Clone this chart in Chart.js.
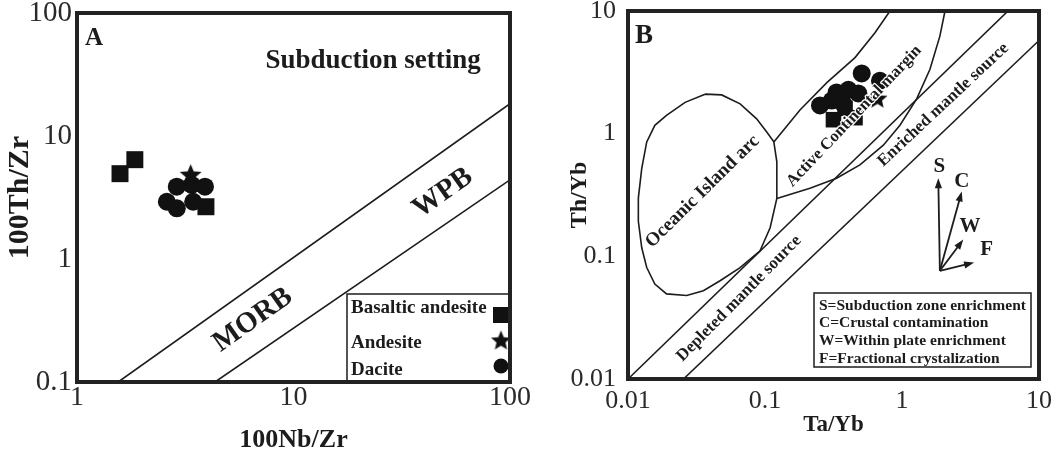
<!DOCTYPE html>
<html>
<head>
<meta charset="utf-8">
<script src="https://cdn.jsdelivr.net/npm/chart.js@4.4.1/dist/chart.umd.min.js"></script>
<style>
  html, body { margin: 0; padding: 0; background: #fff; }
  #wrap { position: relative; width: 1063px; height: 453px; overflow: hidden; background: #fff; }
  #cA { position: absolute; left: 0; top: 0; }
  #cB { position: absolute; left: 545px; top: 0; }
</style>
</head>
<body>
<div id="wrap">
  <canvas id="cA" width="545" height="453"></canvas>
  <canvas id="cB" width="518" height="453"></canvas>
</div>
<script>
// ---------- Panel A: 100Th/Zr vs 100Nb/Zr ----------
const aXTicks = [1, 10, 100];
const aXTickLabels = ['1', '10', '100'];
const aYTicks = [0.1, 1, 10, 100];
const aYTickLabels = ['0.1', '1', '10', '100'];

const aBasalticAndesite = [[1.58, 4.94], [1.85, 6.42], [3.94, 2.66]];
const aAndesite = [[3.35, 4.88]];
const aDacite = [[2.60, 2.92], [2.89, 2.58], [2.89, 3.87], [3.39, 4.00], [3.90, 3.87], [3.44, 2.92]];

const aBoundaryUpper = [[1.55, 0.1], [100, 18.3]];
const aBoundaryLower = [[4.34, 0.1], [100, 4.4]];

const aLegendNames = ['Basaltic andesite', 'Andesite', 'Dacite'];
const aRegionNames = ['MORB', 'WPB'];
const aRegionPos = [[6.5, 0.319], [49, 3.44]];
const aSettingName = 'Subduction setting';
const aSettingPos = [23.3, 40.5];

// ---------- Panel B: Th/Yb vs Ta/Yb ----------
const bXTicks = [0.01, 0.1, 1, 10];
const bXTickLabels = ['0.01', '0.1', '1', '10'];
const bYTicks = [0.01, 0.1, 1, 10];
const bYTickLabels = ['0.01', '0.1', '1', '10'];

const bBasalticAndesite = [[0.316, 1.30], [0.454, 1.35], [0.384, 1.61]];
const bAndesite = [[0.662, 1.95]];
const bDacite = [[0.508, 3.10], [0.690, 2.70], [0.252, 1.70], [0.307, 1.86], [0.333, 2.17],
                 [0.406, 2.28], [0.480, 2.13], [0.373, 1.75]];

const bArrayUpper = [[0.01, 0.01], [5.94, 10]];
const bArrayLower = [[0.0254, 0.01], [10, 5.75]];
const bOceanicArc = [
  [0.0365, 2.10], [0.0483, 2.07], [0.0658, 1.75], [0.0869, 1.32], [0.103, 1.03], [0.116, 0.857],
  [0.122, 0.590], [0.122, 0.296], [0.109, 0.171], [0.092, 0.111], [0.0658, 0.081], [0.047, 0.0632],
  [0.0355, 0.0525], [0.0268, 0.0479], [0.0191, 0.0494], [0.0157, 0.0594], [0.0137, 0.081],
  [0.0126, 0.1175], [0.0119, 0.193], [0.0119, 0.298], [0.0126, 0.521], [0.0137, 0.857],
  [0.0157, 1.17], [0.0191, 1.41], [0.0261, 1.80], [0.0365, 2.10]
];
const bActiveUpper = [[0.116, 0.857], [0.180, 1.56], [0.284, 2.62], [0.454, 4.17], [0.635, 6.64], [0.817, 10]];
const bActiveLower = [[0.122, 0.296], [0.213, 0.359], [0.333, 0.433], [0.493, 0.556], [0.731, 0.805],
                      [0.966, 1.17], [1.28, 1.92], [1.60, 3.35], [1.89, 6.24], [2.06, 10]];

const bRegionNames = ['Oceanic Island arc', 'Active Continental margin', 'Enriched mantle source', 'Depleted mantle source'];
const bRegionPos = [[0.035, 0.338], [0.447, 1.39], [2.00, 1.72], [0.0646, 0.0453]];
const bRegionAngle = [-44.6, -46.5, -43.1, -45.4];

const bVectorOrigin = [1.89, 0.0762];
const bVectorNames = ['S', 'C', 'W', 'F'];
const bVectorTips = [[1.84, 0.433], [2.73, 0.338], [2.80, 0.137], [3.36, 0.089]];
const bVectorLabelPos = [[1.87, 0.538], [2.73, 0.407], [3.13, 0.176], [4.15, 0.114]];

const bNoteLines = [
  'S=Subduction zone enrichment',
  'C=Crustal contamination',
  'W=Within plate enrichment',
  'F=Fractional crystalization'
];

// ---------- shared drawing helpers ----------
const SERIF = '"Liberation Serif", "Times New Roman", serif';
const INK = '#1c1c1c';
Chart.defaults.font.family = SERIF;
Chart.defaults.color = '#2a2a2a';

const toXY = arr => arr.map(([x, y]) => ({ x, y }));

function starImage(R) {
  const s = Math.ceil(R * 2 + 2);
  const c = document.createElement('canvas');
  c.width = s; c.height = s;
  const g = c.getContext('2d');
  g.fillStyle = '#111';
  g.beginPath();
  const r = R * 0.45, cx = s / 2, cy = s / 2 + R * 0.1;
  for (let i = 0; i < 10; i++) {
    const a = -Math.PI / 2 + i * Math.PI / 5;
    const rr = i % 2 ? r : R;
    g.lineTo(cx + rr * Math.cos(a), cy + rr * Math.sin(a));
  }
  g.closePath();
  g.fill();
  return c;
}

function drawText(ctx, text, x, y, o) {
  ctx.save();
  ctx.translate(x, y);
  ctx.rotate((o.angle || 0) * Math.PI / 180);
  ctx.font = o.font;
  ctx.textAlign = o.align || 'center';
  ctx.textBaseline = o.baseline || 'middle';
  if (o.halo) {
    ctx.lineWidth = o.halo;
    ctx.strokeStyle = '#fff';
    ctx.lineJoin = 'round';
    ctx.strokeText(text, 0, 0);
  }
  ctx.fillStyle = o.color || INK;
  ctx.fillText(text, 0, 0);
  ctx.restore();
}

function drawFrame(ctx, ca) {
  ctx.save();
  ctx.lineWidth = 4;
  ctx.strokeStyle = '#222';
  ctx.strokeRect(ca.left, ca.top, ca.right - ca.left, ca.bottom - ca.top);
  ctx.restore();
}

function logAxis(min, max, ticks, labels, fontSize, pad, fixedSize, horizontal) {
  return {
    type: 'logarithmic',
    min, max,
    grid: { display: false, drawTicks: false },
    border: { display: false },
    ticks: {
      font: { size: fontSize, lineHeight: 1 },
      padding: pad,
      maxRotation: 0,
      autoSkip: false,
      callback: (v, i) => labels[i]
    },
    afterBuildTicks: s => { s.ticks = ticks.map(v => ({ value: v })); },
    afterFit: s => {
      if (horizontal) s.height = fixedSize; else s.width = fixedSize;
      s.paddingTop = 0; s.paddingBottom = 0; s.paddingLeft = 0; s.paddingRight = 0;
    }
  };
}

function pointSet(label, data, style, radius) {
  return {
    label, data: toXY(data), showLine: false,
    pointStyle: style, pointRadius: radius, pointHoverRadius: radius,
    pointBackgroundColor: '#111', pointBorderWidth: 0
  };
}

function lineSet(label, data) {
  return {
    label, data: toXY(data), showLine: true, fill: false, tension: 0,
    borderColor: INK, borderWidth: 1.6, pointRadius: 0, pointHoverRadius: 0
  };
}

const starA = starImage(11.5);
const starALegend = starImage(10.5);
const starB = starImage(10.5);

// ---------- Panel A ----------
const panelADecor = {
  id: 'panelADecor',
  afterDatasetsDraw(chart) {
    const { ctx, chartArea: ca, scales: { x, y } } = chart;
    const px = p => [x.getPixelForValue(p[0]), y.getPixelForValue(p[1])];

    // labels run parallel to the field boundaries
    const u0 = px(aBoundaryUpper[0]), u1 = px(aBoundaryUpper[1]);
    const ang = Math.atan2(u1[1] - u0[1], u1[0] - u0[0]) * 180 / Math.PI;
    aRegionNames.forEach((t, i) => {
      const p = px(aRegionPos[i]);
      drawText(ctx, t, p[0], p[1], { font: `bold 29px ${SERIF}`, angle: ang });
    });
    const sp = px(aSettingPos);
    drawText(ctx, aSettingName, sp[0], sp[1], { font: `bold 27px ${SERIF}` });
    drawText(ctx, 'A', ca.left + 8, ca.top + 32, { font: `bold 25px ${SERIF}`, align: 'left', baseline: 'alphabetic' });

    // legend box in the lower-right corner
    const bx = ca.right - 163, by = ca.bottom - 88;
    ctx.save();
    ctx.lineWidth = 1.5;
    ctx.strokeStyle = INK;
    ctx.strokeRect(bx, by, ca.right - bx, ca.bottom - by);
    const textY = [14, 49, 76];
    const markY = [21, 46, 72];
    const mx = ca.right - 9;
    aLegendNames.forEach((t, i) => {
      drawText(ctx, t, bx + 4, by + textY[i], { font: `bold 19px ${SERIF}`, align: 'left' });
    });
    ctx.fillStyle = '#111';
    ctx.fillRect(mx - 8, by + markY[0] - 8, 16, 16);
    ctx.drawImage(starALegend, mx - starALegend.width / 2, by + markY[1] - starALegend.height / 2);
    ctx.beginPath();
    ctx.arc(mx, by + markY[2], 7.5, 0, Math.PI * 2);
    ctx.fill();
    ctx.restore();

    drawFrame(ctx, ca);
  }
};

new Chart(document.getElementById('cA'), {
  type: 'scatter',
  data: {
    datasets: [
      pointSet('Andesite', aAndesite, starA, 11),
      pointSet('Dacite', aDacite, 'circle', 9),
      pointSet('Basaltic andesite', aBasalticAndesite, 'rect', 12),
      lineSet('MORB upper boundary', aBoundaryUpper),
      lineSet('MORB lower boundary', aBoundaryLower)
    ]
  },
  options: {
    responsive: false,
    animation: false,
    events: [],
    layout: { padding: { left: 0, top: 13, right: 35, bottom: 0 } },
    plugins: { legend: { display: false }, tooltip: { enabled: false } },
    scales: {
      x: Object.assign(logAxis(1, 100, aXTicks, aXTickLabels, 28, 2, 71, true), {
        title: { display: true, text: '100Nb/Zr', font: { size: 26, weight: 'bold', lineHeight: 1 }, padding: { top: 0, bottom: 0 }, color: INK }
      }),
      y: Object.assign(logAxis(0.1, 100, aYTicks, aYTickLabels, 29, 5, 77, false), {
        title: { display: true, text: '100Th/Zr', font: { size: 30, weight: 'bold', lineHeight: 1 }, padding: { top: 5, bottom: 0 }, color: INK }
      })
    }
  },
  plugins: [panelADecor]
});

// ---------- Panel B ----------
const panelBDecor = {
  id: 'panelBDecor',
  beforeDatasetsDraw(chart) {
    const { ctx, scales: { x, y } } = chart;
    [0, 2, 3].forEach(i => {
      const p = [x.getPixelForValue(bRegionPos[i][0]), y.getPixelForValue(bRegionPos[i][1])];
      drawText(ctx, bRegionNames[i], p[0], p[1], { font: `bold ${i === 0 ? 19 : 17}px ${SERIF}`, angle: bRegionAngle[i] });
    });
  },
  afterDatasetsDraw(chart) {
    const { ctx, chartArea: ca, scales: { x, y } } = chart;
    const px = p => [x.getPixelForValue(p[0]), y.getPixelForValue(p[1])];

    // label written across the sample cluster keeps a white outline
    const ap = px(bRegionPos[1]);
    drawText(ctx, bRegionNames[1], ap[0], ap[1], { font: `bold 16.5px ${SERIF}`, angle: bRegionAngle[1], halo: 2.5 });

    drawText(ctx, 'B', ca.left + 7, ca.top + 32, { font: `bold 27px ${SERIF}`, align: 'left', baseline: 'alphabetic' });

    // enrichment / crystallisation vectors
    const o = px(bVectorOrigin);
    ctx.save();
    ctx.strokeStyle = INK;
    ctx.fillStyle = INK;
    ctx.lineWidth = 1.8;
    bVectorTips.forEach((tip, i) => {
      const t = px(tip);
      const a = Math.atan2(t[1] - o[1], t[0] - o[0]);
      const L = 10, W = 3.6;
      ctx.beginPath();
      ctx.moveTo(o[0], o[1]);
      ctx.lineTo(t[0] - L * 0.7 * Math.cos(a), t[1] - L * 0.7 * Math.sin(a));
      ctx.stroke();
      ctx.beginPath();
      ctx.moveTo(t[0], t[1]);
      ctx.lineTo(t[0] - L * Math.cos(a) + W * Math.sin(a), t[1] - L * Math.sin(a) - W * Math.cos(a));
      ctx.lineTo(t[0] - L * Math.cos(a) - W * Math.sin(a), t[1] - L * Math.sin(a) + W * Math.cos(a));
      ctx.closePath();
      ctx.fill();
      const lp = px(bVectorLabelPos[i]);
      drawText(ctx, bVectorNames[i], lp[0], lp[1], { font: `bold 21px ${SERIF}` });
    });
    ctx.restore();

    // key to the vectors
    const bw = 217, bh = 74;
    const bx = ca.right - 8 - bw, by = ca.bottom - 12 - bh;
    ctx.save();
    ctx.fillStyle = '#fff';
    ctx.fillRect(bx, by, bw, bh);
    ctx.lineWidth = 1.5;
    ctx.strokeStyle = INK;
    ctx.strokeRect(bx, by, bw, bh);
    bNoteLines.forEach((t, i) => {
      drawText(ctx, t, bx + 5, by + 12.7 + i * 17.7, { font: `bold 15.5px ${SERIF}`, align: 'left' });
    });
    ctx.restore();

    drawFrame(ctx, ca);
  }
};

new Chart(document.getElementById('cB'), {
  type: 'scatter',
  data: {
    datasets: [
      pointSet('Andesite', bAndesite, starB, 10),
      pointSet('Dacite', bDacite, 'circle', 9),
      pointSet('Basaltic andesite', bBasalticAndesite, 'rect', 11),
      lineSet('Oceanic Island arc', bOceanicArc),
      lineSet('Active Continental margin (upper)', bActiveUpper),
      lineSet('Active Continental margin (lower)', bActiveLower),
      lineSet('Mantle array upper', bArrayUpper),
      lineSet('Mantle array lower', bArrayLower)
    ]
  },
  options: {
    responsive: false,
    animation: false,
    events: [],
    layout: { padding: { left: 0, top: 8, right: 24, bottom: 0 } },
    plugins: { legend: { display: false }, tooltip: { enabled: false } },
    scales: {
      x: Object.assign(logAxis(0.01, 10, bXTicks, bXTickLabels, 26, 9, 74, true), {
        title: { display: true, text: 'Ta/Yb', font: { size: 23, weight: 'bold', lineHeight: 1 }, padding: { top: 0, bottom: 16.5 }, color: INK }
      }),
      y: Object.assign(logAxis(0.01, 10, bYTicks, bYTickLabels, 26, 12, 83, false), {
        title: { display: true, text: 'Th/Yb', font: { size: 24, weight: 'bold', lineHeight: 1 }, padding: { top: 23, bottom: 0 }, color: INK }
      })
    }
  },
  plugins: [panelBDecor]
});
</script>
</body>
</html>
